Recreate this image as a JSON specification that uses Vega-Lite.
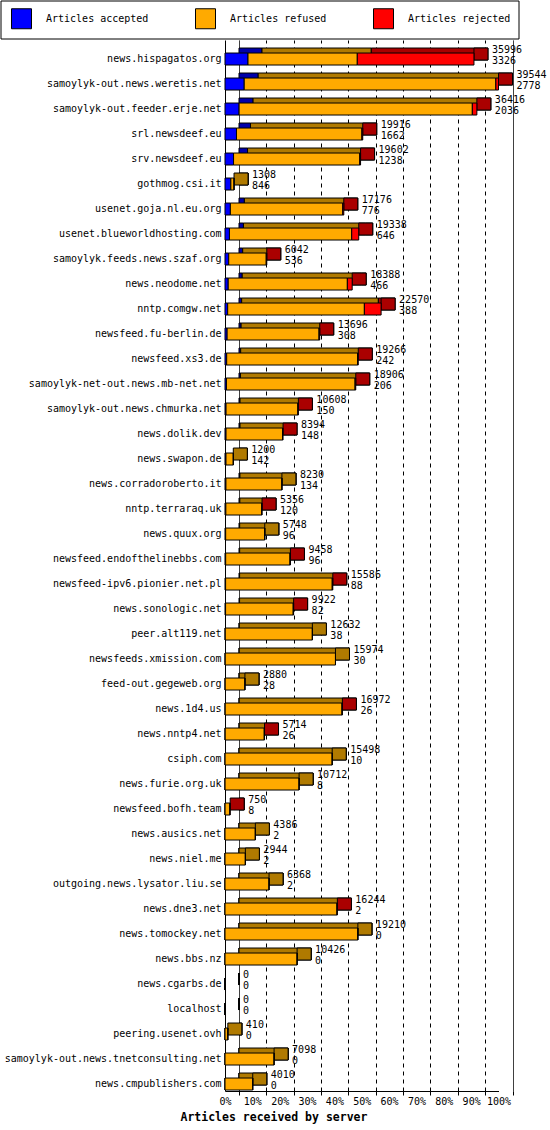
{
  "$schema": "https://vega.github.io/schema/vega-lite/v6.json",
  "width": 273.5,
  "height": 1051,
  "autosize": "none",
  "padding": {"left": 225, "top": 40, "right": 51.5, "bottom": 39},
  "background": "white",
  "config": {"view": {"stroke": null}, "font": "DejaVu Sans Mono"},
  "data": {
    "values": [
      {"server": "news.hispagatos.org", "total": 35996, "accepted": 3326, "refused": 15800, "rejected": 16870},
      {"server": "samoylyk-out.news.weretis.net", "total": 39544, "accepted": 2778, "refused": 36380, "rejected": 386},
      {"server": "samoylyk-out.feeder.erje.net", "total": 36416, "accepted": 2036, "refused": 33724, "rejected": 656},
      {"server": "srl.newsdeef.eu", "total": 19916, "accepted": 1662, "refused": 18134, "rejected": 120},
      {"server": "srv.newsdeef.eu", "total": 19602, "accepted": 1238, "refused": 18244, "rejected": 120},
      {"server": "gothmog.csi.it", "total": 1308, "accepted": 846, "refused": 462, "rejected": 0},
      {"server": "usenet.goja.nl.eu.org", "total": 17176, "accepted": 776, "refused": 16250, "rejected": 150},
      {"server": "usenet.blueworldhosting.com", "total": 19338, "accepted": 646, "refused": 17675, "rejected": 1017},
      {"server": "samoylyk.feeds.news.szaf.org", "total": 6042, "accepted": 536, "refused": 5426, "rejected": 80},
      {"server": "news.neodome.net", "total": 18388, "accepted": 466, "refused": 17224, "rejected": 698},
      {"server": "nntp.comgw.net", "total": 22570, "accepted": 388, "refused": 19762, "rejected": 2420},
      {"server": "newsfeed.fu-berlin.de", "total": 13696, "accepted": 308, "refused": 13288, "rejected": 100},
      {"server": "newsfeed.xs3.de", "total": 19266, "accepted": 242, "refused": 18924, "rejected": 100},
      {"server": "samoylyk-net-out.news.mb-net.net", "total": 18906, "accepted": 206, "refused": 18600, "rejected": 100},
      {"server": "samoylyk-out.news.chmurka.net", "total": 10608, "accepted": 150, "refused": 10378, "rejected": 80},
      {"server": "news.dolik.dev", "total": 8394, "accepted": 148, "refused": 8166, "rejected": 80},
      {"server": "news.swapon.de", "total": 1200, "accepted": 142, "refused": 1058, "rejected": 0},
      {"server": "news.corradoroberto.it", "total": 8230, "accepted": 134, "refused": 8096, "rejected": 0},
      {"server": "nntp.terraraq.uk", "total": 5356, "accepted": 120, "refused": 5186, "rejected": 50},
      {"server": "news.quux.org", "total": 5748, "accepted": 96, "refused": 5652, "rejected": 0},
      {"server": "newsfeed.endofthelinebbs.com", "total": 9458, "accepted": 96, "refused": 9302, "rejected": 60},
      {"server": "newsfeed-ipv6.pionier.net.pl", "total": 15586, "accepted": 88, "refused": 15418, "rejected": 80},
      {"server": "news.sonologic.net", "total": 9922, "accepted": 82, "refused": 9780, "rejected": 60},
      {"server": "peer.alt119.net", "total": 12632, "accepted": 38, "refused": 12594, "rejected": 0},
      {"server": "newsfeeds.xmission.com", "total": 15974, "accepted": 30, "refused": 15944, "rejected": 0},
      {"server": "feed-out.gegeweb.org", "total": 2880, "accepted": 28, "refused": 2852, "rejected": 0},
      {"server": "news.1d4.us", "total": 16972, "accepted": 26, "refused": 16886, "rejected": 60},
      {"server": "news.nntp4.net", "total": 5714, "accepted": 26, "refused": 5648, "rejected": 40},
      {"server": "csiph.com", "total": 15498, "accepted": 10, "refused": 15488, "rejected": 0},
      {"server": "news.furie.org.uk", "total": 10712, "accepted": 8, "refused": 10704, "rejected": 0},
      {"server": "newsfeed.bofh.team", "total": 750, "accepted": 8, "refused": 692, "rejected": 50},
      {"server": "news.ausics.net", "total": 4386, "accepted": 2, "refused": 4384, "rejected": 0},
      {"server": "news.niel.me", "total": 2944, "accepted": 2, "refused": 2942, "rejected": 0},
      {"server": "outgoing.news.lysator.liu.se", "total": 6368, "accepted": 2, "refused": 6366, "rejected": 0},
      {"server": "news.dne3.net", "total": 16244, "accepted": 2, "refused": 16182, "rejected": 60},
      {"server": "news.tomockey.net", "total": 19210, "accepted": 0, "refused": 19210, "rejected": 0},
      {"server": "news.bbs.nz", "total": 10426, "accepted": 0, "refused": 10426, "rejected": 0},
      {"server": "news.cgarbs.de", "total": 0, "accepted": 0, "refused": 0, "rejected": 0},
      {"server": "localhost", "total": 0, "accepted": 0, "refused": 0, "rejected": 0},
      {"server": "peering.usenet.ovh", "total": 410, "accepted": 0, "refused": 410, "rejected": 0},
      {"server": "samoylyk-out.news.tnetconsulting.net", "total": 7098, "accepted": 0, "refused": 7098, "rejected": 0},
      {"server": "news.cmpublishers.com", "total": 4010, "accepted": 0, "refused": 4010, "rejected": 0}
    ]
  },
  "encoding": {
    "y": {
      "field": "server",
      "type": "nominal",
      "sort": null,
      "scale": {"paddingInner": 0.52, "paddingOuter": 0.28, "align": 0.93},
      "axis": {
        "title": null,
        "ticks": false,
        "grid": false,
        "labelPadding": 4,
        "labelFont": "DejaVu Sans Mono",
        "labelFontSize": 10,
        "labelColor": "black",
        "labelLimit": 300,
        "domainColor": "black"
      }
    }
  },
  "layer": [
    {
      "transform": [{"fold": ["accepted", "refused", "rejected"], "as": ["kind", "count"]}],
      "mark": {"type": "bar", "xOffset": 14, "x2Offset": 14, "yOffset": -5, "y2Offset": -5, "stroke": "black", "strokeWidth": 1},
      "encoding": {
        "x": {
          "field": "count",
          "type": "quantitative",
          "stack": "zero",
          "scale": {"domain": [0, 39544], "nice": false},
          "axis": {
            "title": "Articles received by server",
            "values": [0, 3954.4, 7908.8, 11863.2, 15817.6, 19772, 23726.4, 27680.8, 31635.2, 35589.6, 39544],
            "tickCount": 20,
            "labelExpr": "format(datum.value / 395.44, '.0f') + '%'",
            "tickOffset": 14,
            "labelOffset": -14,
            "grid": true,
            "gridColor": "black",
            "gridWidth": 1,
            "gridDash": {"condition": {"test": "datum.value < 1 || datum.value > 39000", "value": [1, 0]}, "value": [4, 4]},
            "domainColor": "black",
            "ticks": true,
            "tickColor": "black",
            "tickSize": 4,
            "labelPadding": 1,
            "labelFont": "DejaVu Sans Mono",
            "labelFontSize": 10,
            "labelColor": "black",
            "labelAngle": 0,
            "labelFlush": false,
            "labelOverlap": false,
            "titleFont": "DejaVu Sans Mono",
            "titleFontSize": 11.5,
            "titleFontWeight": "bold",
            "titleColor": "black",
            "titleAlign": "left",
            "titleAnchor": "start",
            "titleBaseline": "middle",
            "titleX": -45,
            "titleY": 26
          }
        },
        "color": {
          "field": "kind",
          "type": "nominal",
          "scale": {"domain": ["accepted", "refused", "rejected"], "range": ["#0000aa", "#b07a00", "#aa0000"]},
          "legend": null
        }
      }
    },
    {
      "transform": [{"filter": "datum.total > 0"}],
      "mark": {"type": "bar", "x2Offset": 14, "yOffset": -5, "y2Offset": -5, "stroke": "black", "strokeWidth": 1},
      "encoding": {
        "x": {"field": "total", "type": "quantitative"},
        "x2": {"field": "total"},
        "fill": {"condition": {"test": "datum.rejected > 0", "value": "#aa0000"}, "value": "#b07a00"}
      }
    },
    {
      "transform": [{"fold": ["accepted", "refused", "rejected"], "as": ["kind", "count"]}],
      "mark": {"type": "bar", "stroke": "black", "strokeWidth": 1},
      "encoding": {
        "x": {"field": "count", "type": "quantitative", "stack": "zero"},
        "color": {
          "field": "kind",
          "type": "nominal",
          "scale": {"domain": ["accepted", "refused", "rejected"], "range": ["#0000ff", "#ffaa00", "#ff0000"]},
          "legend": {
            "title": null,
            "orient": "none",
            "legendX": -224.5,
            "legendY": -39.5,
            "direction": "horizontal",
            "columns": 3,
            "columnPadding": 43,
            "padding": 7.5,
            "strokeColor": "black",
            "symbolType": "square",
            "symbolSize": 400,
            "symbolOffset": 3,
            "symbolStrokeColor": "black",
            "symbolStrokeWidth": 1,
            "symbolOpacity": 1,
            "labelFont": "DejaVu Sans Mono",
            "labelFontSize": 10,
            "labelColor": "black",
            "labelOffset": 14,
            "labelLimit": 400,
            "labelExpr": "'Articles ' + datum.label + (datum.label == 'rejected' ? '\u00a0\u00a0\u00a0\u00a0\u00a0\u00a0\u00a0\u00a0\u00a0' : '')"
          }
        }
      }
    },
    {
      "mark": {"type": "text", "align": "left", "baseline": "middle", "dx": 18, "dy": -9, "font": "DejaVu Sans Mono", "fontSize": 10, "fill": "black"},
      "encoding": {
        "x": {"field": "total", "type": "quantitative"},
        "text": {"field": "total", "type": "quantitative", "format": "d"}
      }
    },
    {
      "mark": {"type": "text", "align": "left", "baseline": "middle", "dx": 18, "dy": 2, "font": "DejaVu Sans Mono", "fontSize": 10, "fill": "black"},
      "encoding": {
        "x": {"field": "total", "type": "quantitative"},
        "text": {"field": "accepted", "type": "quantitative", "format": "d"}
      }
    }
  ],
  "resolve": {"scale": {"color": "independent"}}
}
